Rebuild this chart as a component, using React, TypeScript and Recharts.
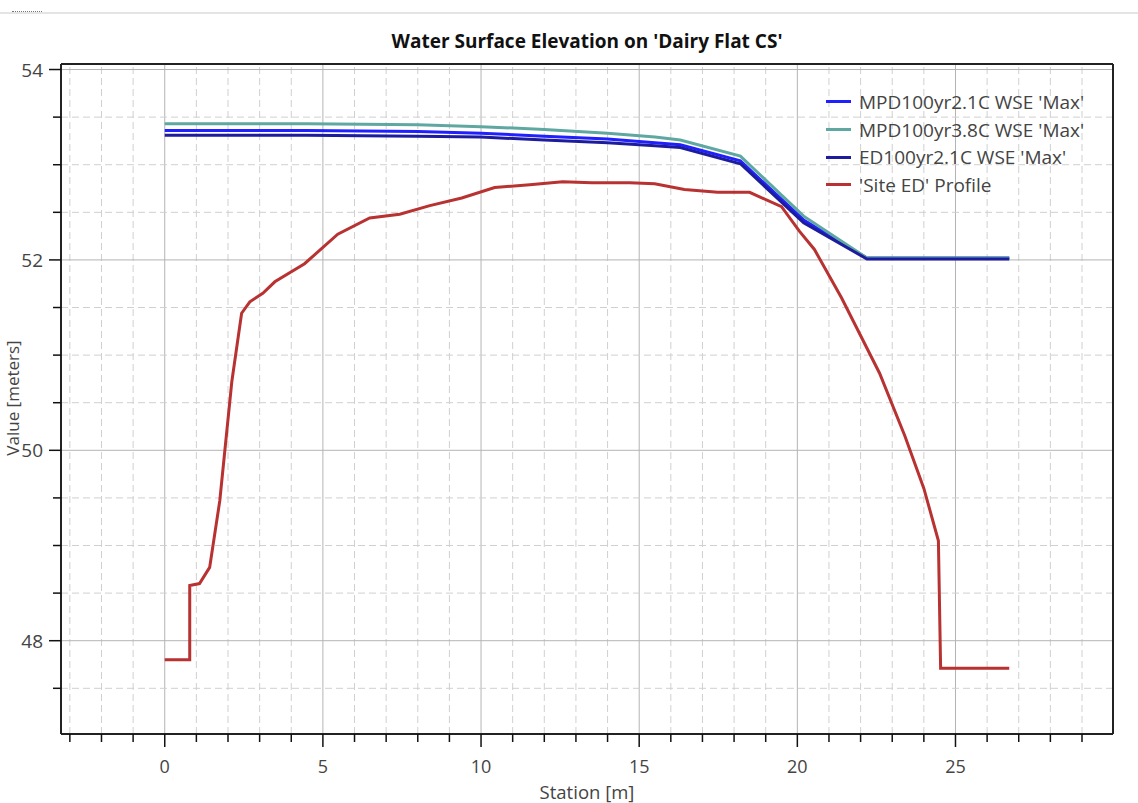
import React from 'react';
import { LineChart, Line, XAxis, YAxis, ReferenceLine } from 'recharts';

const chartTitle = "Water Surface Elevation on 'Dairy Flat CS'";
const xAxisTitle = 'Station [m]';
const yAxisTitle = 'Value [meters]';

const wseStations = [0, 4.5, 8, 10, 12, 14, 15.5, 16.3, 18.2, 20.2, 22.2, 26.7];
const mpd21Values = [53.36, 53.36, 53.35, 53.33, 53.3, 53.27, 53.23, 53.21, 53.04, 52.42, 52.02, 52.02];
const mpd38Values = [53.43, 53.43, 53.42, 53.4, 53.37, 53.33, 53.29, 53.26, 53.09, 52.46, 52.02, 52.02];
const ed21Values = [53.31, 53.31, 53.3, 53.29, 53.26, 53.23, 53.2, 53.18, 53.01, 52.39, 52.01, 52.01];

const siteStations = [0, 0.79, 0.79, 1.1, 1.42, 1.74, 2.12, 2.43, 2.69, 3.1, 3.48, 4.42, 5.47, 6.48, 7.43, 8.38, 9.39, 10.43, 11.54, 12.58, 13.5, 14.7, 15.49, 16.43, 17.48, 18.49, 19.5, 20.07, 20.54, 21.4, 22.6, 23.4, 24.0, 24.46, 24.53, 26.7];
const siteValues = [47.8, 47.8, 48.58, 48.6, 48.77, 49.47, 50.72, 51.44, 51.56, 51.65, 51.77, 51.96, 52.27, 52.44, 52.48, 52.57, 52.65, 52.76, 52.79, 52.82, 52.81, 52.81, 52.8, 52.74, 52.71, 52.71, 52.56, 52.3, 52.11, 51.6, 50.81, 50.15, 49.6, 49.05, 47.71, 47.71];

const seriesNames = ["MPD100yr2.1C WSE 'Max'", "MPD100yr3.8C WSE 'Max'", "ED100yr2.1C WSE 'Max'", "'Site ED' Profile"];
const seriesColors = ['#1f1fff', '#5fa8a2', '#1c1c9c', '#b83232'];

const xTicks = [-3, -2, -1, 0, 1, 2, 3, 4, 5, 6, 7, 8, 9, 10, 11, 12, 13, 14, 15, 16, 17, 18, 19, 20, 21, 22, 23, 24, 25, 26, 27, 28, 29];
const xLabelTicks = [0, 5, 10, 15, 20, 25];
const yTicks = [47.5, 48, 48.5, 49, 49.5, 50, 50.5, 51, 51.5, 52, 52.5, 53, 53.5, 54];
const yLabelTicks = [48, 50, 52, 54];

const xDomain = [-3.28, 29.98];
const yDomain = [47.02, 54.058];

const toPoints = (xs: number[], ys: number[]) => xs.map((x, i) => ({ x, y: ys[i] }));
const seriesData = [
  toPoints(wseStations, mpd21Values),
  toPoints(wseStations, mpd38Values),
  toPoints(wseStations, ed21Values),
  toPoints(siteStations, siteValues),
];

const FONT = "'Open Sans', 'Noto Sans', sans-serif";

const XTick = (props: any) => {
  const { x, y, payload } = props;
  const major = xLabelTicks.includes(payload.value);
  return (
    <g>
      <line x1={x} x2={x} y1={y} y2={y + (major ? 13 : 8)} stroke="#111" strokeWidth={1.5} />
      {major && (
        <text x={x} y={y + 39} textAnchor="middle" fill="#444" fontSize={18} fontFamily={FONT}>
          {payload.value}
        </text>
      )}
    </g>
  );
};

const YTick = (props: any) => {
  const { x, y, payload } = props;
  const major = yLabelTicks.includes(payload.value);
  return (
    <g>
      <line x1={x} x2={x - (major ? 12 : 8)} y1={y} y2={y} stroke="#111" strokeWidth={1.5} />
      {major && (
        <text x={x - 18} y={y + 7} textAnchor="end" fill="#444" fontSize={19} fontFamily={FONT}>
          {payload.value}
        </text>
      )}
    </g>
  );
};

export default function App() {
  return (
    <div style={{ position: 'absolute', left: 0, top: 0, width: 1138, height: 803, background: '#fff', overflow: 'hidden', fontFamily: FONT }}>
      <div style={{ position: 'absolute', left: 0, top: 12, width: 1138, height: 2, background: '#e4e4e4' }} />
      <div style={{ position: 'absolute', left: 12, top: 11, width: 30, height: 0, borderTop: '1px dotted #777' }} />
      <LineChart
        width={1138}
        height={803}
        margin={{ top: 64, right: 25, bottom: 0, left: 0 }}
        style={{ position: 'absolute', left: 0, top: 0 }}
      >
        <XAxis
          xAxisId="b"
          type="number"
          dataKey="x"
          domain={xDomain}
          ticks={xTicks}
          allowDataOverflow
          height={69}
          tickSize={0}
          tickMargin={0}
          tick={<XTick />}
          axisLine={{ stroke: '#222', strokeWidth: 2 }}
          interval={0}
        />
        <YAxis
          yAxisId="l"
          type="number"
          domain={yDomain}
          ticks={yTicks}
          allowDataOverflow
          width={61}
          tickSize={0}
          tickMargin={0}
          tick={<YTick />}
          axisLine={{ stroke: '#222', strokeWidth: 2 }}
          interval={0}
        />
        {xTicks.map((t) => (
          <ReferenceLine
            key={'gx' + t}
            xAxisId="b"
            yAxisId="l"
            x={t}
            stroke={xLabelTicks.includes(t) ? '#b4b4b4' : '#d0d0d0'}
            strokeWidth={1}
            strokeDasharray={xLabelTicks.includes(t) ? undefined : '7 4'}
          />
        ))}
        {yTicks.map((t) => (
          <ReferenceLine
            key={'gy' + t}
            xAxisId="b"
            yAxisId="l"
            y={t}
            stroke={yLabelTicks.includes(t) ? '#b4b4b4' : '#d0d0d0'}
            strokeWidth={1}
            strokeDasharray={yLabelTicks.includes(t) ? undefined : '7 4'}
          />
        ))}
        <ReferenceLine xAxisId="b" yAxisId="l" x={xDomain[1]} stroke="#222" strokeWidth={2} ifOverflow="visible" />
        <ReferenceLine xAxisId="b" yAxisId="l" y={yDomain[1]} stroke="#222" strokeWidth={2} ifOverflow="visible" />
        {[3, 0, 1, 2].map((i) => (
          <Line
            key={seriesNames[i]}
            xAxisId="b"
            yAxisId="l"
            data={seriesData[i]}
            dataKey="y"
            name={seriesNames[i]}
            type="linear"
            stroke={seriesColors[i]}
            strokeWidth={3}
            dot={false}
            activeDot={false}
            isAnimationActive={false}
          />
        ))}
      </LineChart>
      <div style={{ position: 'absolute', left: 0, top: 28, width: 1174, textAlign: 'center', fontWeight: 700, fontSize: 19, color: '#111' }}>
        {chartTitle}
      </div>
      <div style={{ position: 'absolute', left: 387, top: 779, width: 400, textAlign: 'center', fontSize: 18.5, color: '#444' }}>
        {xAxisTitle}
      </div>
      <div
        style={{
          position: 'absolute',
          left: 13 - 100,
          top: 398 - 11,
          width: 200,
          height: 22,
          lineHeight: '22px',
          textAlign: 'center',
          fontSize: 17,
          color: '#444',
          transform: 'rotate(-90deg)',
        }}
      >
        {yAxisTitle}
      </div>
      <div style={{ position: 'absolute', left: 826, top: 88 }}>
        {seriesNames.map((n, i) => (
          <div key={n} style={{ display: 'flex', alignItems: 'center', height: 27.7 }}>
            <div style={{ width: 25, height: 3, background: seriesColors[i], marginRight: 8 }} />
            <span style={{ fontSize: 19, color: '#444', whiteSpace: 'nowrap' }}>{n}</span>
          </div>
        ))}
      </div>
    </div>
  );
}
